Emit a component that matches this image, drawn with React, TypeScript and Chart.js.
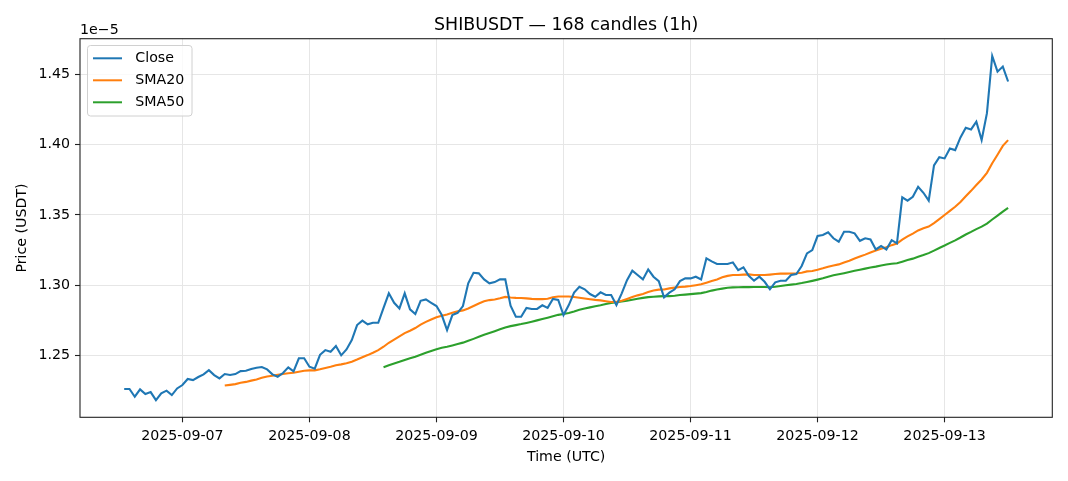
import React, { useEffect, useRef } from 'react';
import { Chart, registerables } from 'chart.js';

Chart.register(...registerables);

const titleText = 'SHIBUSDT — 168 candles (1h)';
const xAxisTitle = 'Time (UTC)';
const yAxisTitle = 'Price (USDT)';
const yExponentLabel = '1e\u22125';

// hours relative to 2025-09-07 00:00 UTC; first candle is 2025-09-06 13:00
const firstCandleHour = -11;

// close prices in units of 1e-5 USDT, one per hourly candle
const closeValues = [
  1.2264, 1.2264, 1.2209, 1.2261, 1.2228, 1.2242, 1.2185, 1.2233, 1.2252, 1.2221,
  1.2268, 1.2292, 1.2335, 1.2327, 1.2349, 1.2368, 1.2398, 1.2363, 1.2339, 1.2370,
  1.2363, 1.2370, 1.2391, 1.2393, 1.2406, 1.2415, 1.2420, 1.2403, 1.2368, 1.2351,
  1.2377, 1.2418, 1.2389, 1.2482, 1.2482, 1.2422, 1.2408, 1.2507, 1.2540, 1.2528,
  1.2569, 1.2503, 1.2545, 1.2611, 1.2718, 1.2749, 1.2723, 1.2734, 1.2734, 1.2840,
  1.2943, 1.2876, 1.2836, 1.2943, 1.2829, 1.2796, 1.2890, 1.2900, 1.2876, 1.2853,
  1.2789, 1.2682, 1.2789, 1.2805, 1.2853, 1.3014, 1.3089, 1.3085, 1.3042, 1.3014,
  1.3023, 1.3042, 1.3042, 1.2855, 1.2777, 1.2777, 1.2840, 1.2832, 1.2832, 1.2858,
  1.2840, 1.2903, 1.2896, 1.2789, 1.2860, 1.2948, 1.2990, 1.2972, 1.2938, 1.2919,
  1.2950, 1.2931, 1.2931, 1.2860, 1.2943, 1.3037, 1.3104, 1.3073, 1.3042, 1.3113,
  1.3061, 1.3030, 1.2915, 1.2948, 1.2972, 1.3030, 1.3049, 1.3049, 1.3061, 1.3042,
  1.3192, 1.3170, 1.3151, 1.3151, 1.3151, 1.3163, 1.3108, 1.3128, 1.3068, 1.3033,
  1.3061, 1.3025, 1.2972, 1.3021, 1.3033, 1.3033, 1.3073, 1.3080, 1.3137, 1.3227,
  1.3250, 1.3350, 1.3357, 1.3376, 1.3334, 1.3310, 1.3380, 1.3380, 1.3369, 1.3316,
  1.3334, 1.3326, 1.3255, 1.3279, 1.3255, 1.3321, 1.3298, 1.3625, 1.3601, 1.3629,
  1.3700, 1.3657, 1.3601, 1.3851, 1.3909, 1.3901, 1.3972, 1.3960, 1.4050, 1.4119,
  1.4107, 1.4162, 1.4032, 1.4222, 1.4628, 1.4517, 1.4553, 1.4447,
];

const seriesLabels = ['Close', 'SMA20', 'SMA50'];
const seriesColors = ['#1f77b4', '#ff7f0e', '#2ca02c'];
const smaWindows = [20, 50];

const dayTickHours = [0, 24, 48, 72, 96, 120, 144];
const dayLabels = [
  '2025-09-07', '2025-09-08', '2025-09-09', '2025-09-10',
  '2025-09-11', '2025-09-12', '2025-09-13',
];
const yTickValues = [1.25, 1.3, 1.35, 1.4, 1.45];

const X_MIN = -19.35;
const X_MAX = 164.35;
const Y_MIN = 1.2063;
const Y_MAX = 1.4751;

const FONT = "'DejaVu Sans', sans-serif";
const TICK_SIZE = 14.2;
const TITLE_SIZE = 17.4;

function movingAverage(values: number[], n: number): (number | null)[] {
  return values.map((_, i) => {
    if (i < n - 1) return null;
    let s = 0;
    for (let k = i - n + 1; k <= i; k++) s += values[k];
    return s / n;
  });
}

const overlayPlugin = {
  id: 'overlayText',
  afterDraw(chart: any) {
    const { ctx, chartArea } = chart;
    const { left, right, top, bottom } = chartArea;
    ctx.save();
    // frame
    ctx.strokeStyle = '#222';
    ctx.lineWidth = 1.1;
    ctx.strokeRect(left, top, right - left, bottom - top);

    ctx.fillStyle = '#000';
    ctx.textBaseline = 'middle';
    // title
    ctx.font = `${TITLE_SIZE}px ${FONT}`;
    ctx.textAlign = 'center';
    ctx.fillText(titleText, (left + right) / 2, 25);
    // x axis title
    ctx.font = `${TICK_SIZE}px ${FONT}`;
    ctx.fillText(xAxisTitle, (left + right) / 2, 457.5);
    // exponent
    ctx.textAlign = 'left';
    ctx.fillText(yExponentLabel, left, 30);
    // y axis title
    ctx.save();
    ctx.translate(22, (top + bottom) / 2);
    ctx.rotate(-Math.PI / 2);
    ctx.textAlign = 'center';
    ctx.fillText(yAxisTitle, 0, 0);
    ctx.restore();

    // legend
    const lx = 87.5, ly = 45.5, lw = 104.5, lh = 70.5, r = 3;
    ctx.beginPath();
    ctx.moveTo(lx + r, ly);
    ctx.lineTo(lx + lw - r, ly);
    ctx.quadraticCurveTo(lx + lw, ly, lx + lw, ly + r);
    ctx.lineTo(lx + lw, ly + lh - r);
    ctx.quadraticCurveTo(lx + lw, ly + lh, lx + lw - r, ly + lh);
    ctx.lineTo(lx + r, ly + lh);
    ctx.quadraticCurveTo(lx, ly + lh, lx, ly + lh - r);
    ctx.lineTo(lx, ly + r);
    ctx.quadraticCurveTo(lx, ly, lx + r, ly);
    ctx.closePath();
    ctx.fillStyle = 'rgba(255,255,255,0.8)';
    ctx.fill();
    ctx.strokeStyle = '#d0d0d0';
    ctx.lineWidth = 1;
    ctx.stroke();

    chart.data.datasets.forEach((ds: any, i: number) => {
      const y = 58.3 + i * 22;
      ctx.strokeStyle = ds.borderColor;
      ctx.lineWidth = 2;
      ctx.beginPath();
      ctx.moveTo(93, y);
      ctx.lineTo(122, y);
      ctx.stroke();
      ctx.fillStyle = '#000';
      ctx.font = `${TICK_SIZE}px ${FONT}`;
      ctx.textAlign = 'left';
      ctx.textBaseline = 'middle';
      ctx.fillText(ds.label, 135.3, y);
    });
    ctx.restore();
  },
};

export default function App() {
  const canvasRef = useRef<HTMLCanvasElement | null>(null);

  useEffect(() => {
    if (!canvasRef.current) return;
    const toPoints = (vals: (number | null)[]) =>
      vals.map((v, i) => ({ x: firstCandleHour + i, y: v }));
    const series = [closeValues, ...smaWindows.map((n) => movingAverage(closeValues, n))];

    const gridCommon = {
      color: '#e6e6e6',
      lineWidth: 1,
      drawTicks: true,
      tickLength: 5,
      tickColor: '#222',
      tickWidth: 1.1,
    };

    const chart = new Chart(canvasRef.current, {
      type: 'line',
      data: {
        datasets: series.map((vals, i) => ({
          label: seriesLabels[i],
          data: toPoints(vals) as any,
          borderColor: seriesColors[i],
          backgroundColor: seriesColors[i],
          borderWidth: 2.1,
          pointRadius: 0,
          tension: 0,
          fill: false,
          spanGaps: false,
        })),
      },
      options: {
        responsive: false,
        animation: false,
        layout: { padding: { left: 0, right: 15.7, top: 38.7, bottom: 0 } },
        plugins: {
          legend: { display: false },
          title: { display: false },
          tooltip: { enabled: false },
        },
        scales: {
          x: {
            type: 'linear',
            min: X_MIN,
            max: X_MAX,
            afterBuildTicks: (s: any) => {
              s.ticks = dayTickHours.map((v) => ({ value: v }));
            },
            afterFit: (s: any) => {
              s.height = 63.7;
            },
            border: { display: false },
            grid: gridCommon,
            ticks: {
              autoSkip: false,
              maxRotation: 0,
              minRotation: 0,
              padding: 6,
              color: '#000',
              font: { family: FONT, size: TICK_SIZE },
              callback: (v: any) => {
                const idx = dayTickHours.indexOf(Number(v));
                return idx >= 0 ? dayLabels[idx] : '';
              },
            },
          },
          y: {
            type: 'linear',
            min: Y_MIN,
            max: Y_MAX,
            afterBuildTicks: (s: any) => {
              s.ticks = yTickValues.map((v) => ({ value: v }));
            },
            afterFit: (s: any) => {
              s.width = 80;
            },
            border: { display: false },
            grid: gridCommon,
            ticks: {
              padding: 5,
              color: '#000',
              font: { family: FONT, size: TICK_SIZE },
              callback: (v: any) => Number(v).toFixed(2),
            },
          },
        },
      } as any,
      plugins: [overlayPlugin],
    });
    return () => chart.destroy();
  }, []);

  return (
    <div style={{ position: 'fixed', left: 0, top: 0, width: 1068, height: 481, background: '#fff' }}>
      <canvas ref={canvasRef} width={1068} height={481} style={{ width: 1068, height: 481 }} />
    </div>
  );
}
